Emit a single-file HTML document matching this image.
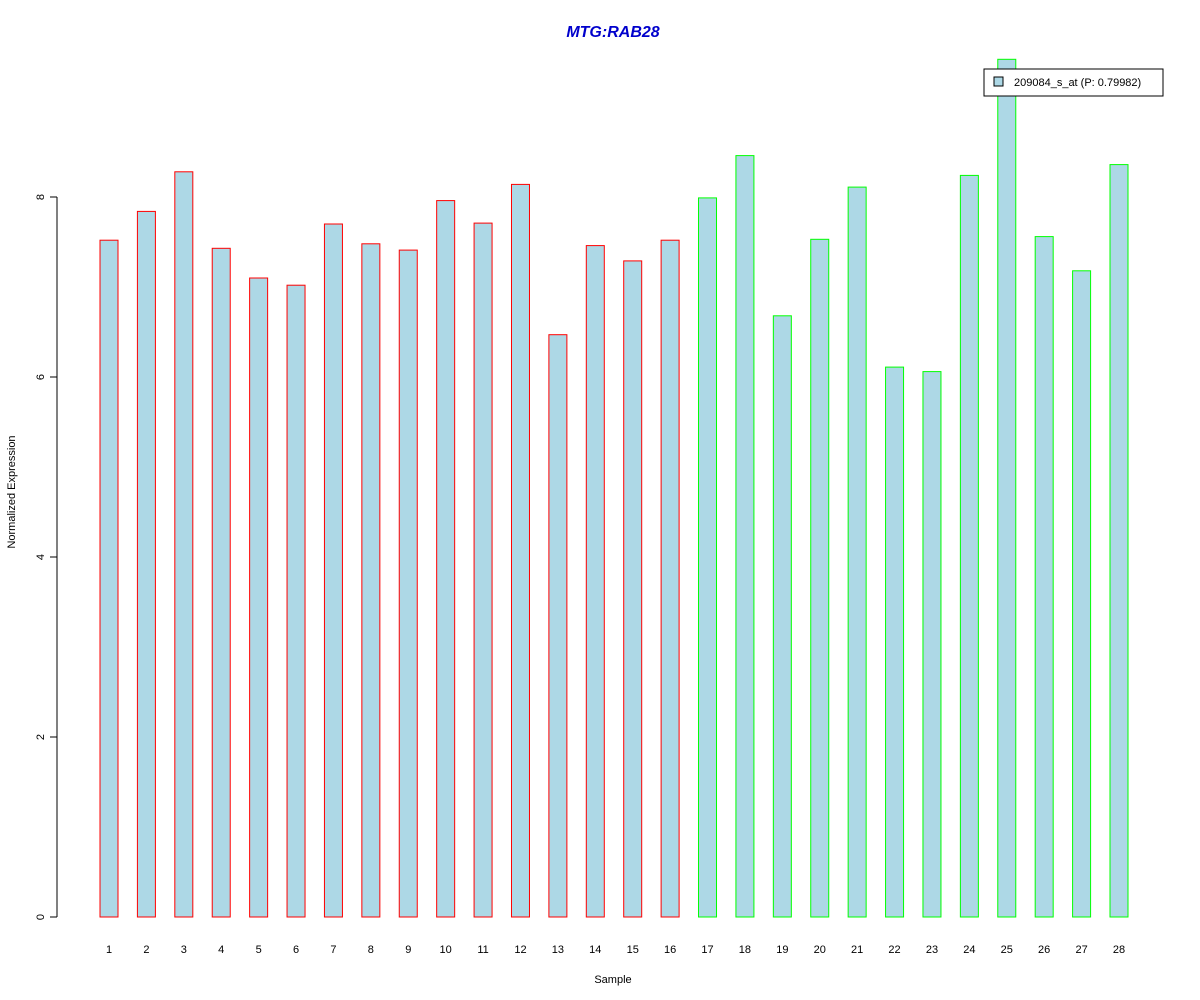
<!DOCTYPE html>
<html><head><meta charset="utf-8"><style>
body{margin:0;background:#fff}
svg{display:block;font-family:"Liberation Sans",Arial,sans-serif}
</style></head><body>
<svg id="chart" width="1200" height="1000" xmlns="http://www.w3.org/2000/svg">
<text x="613" y="37" text-anchor="middle" font-size="16" font-weight="bold" font-style="italic" fill="#0000cc">MTG:RAB28</text>
<text x="613" y="983" text-anchor="middle" font-size="11">Sample</text>
<text transform="translate(15,492) rotate(-90)" text-anchor="middle" font-size="11">Normalized Expression</text>
<g id="yaxis"></g>
<g id="bars"></g>
<g id="xlabels"></g>
<g>
<rect x="984" y="69" width="179" height="27" fill="#fff" stroke="#000"/>
<rect x="994" y="77" width="9" height="9" fill="#add8e6" stroke="#000"/>
<text x="1014" y="86" font-size="11">209084_s_at (P: 0.79982)</text>
</g>
</svg>
<script>
const categories=["1","2","3","4","5","6","7","8","9","10","11","12","13","14","15","16","17","18","19","20","21","22","23","24","25","26","27","28"];
const values=[7.52,7.84,8.28,7.43,7.10,7.02,7.70,7.48,7.41,7.96,7.71,8.14,6.47,7.46,7.29,7.52,7.99,8.46,6.68,7.53,8.11,6.11,6.06,8.24,9.53,7.56,7.18,8.36];
const groups=["a","a","a","a","a","a","a","a","a","a","a","a","a","a","a","a","b","b","b","b","b","b","b","b","b","b","b","b"];
const yTicks=[0,2,4,6,8];
const NS="http://www.w3.org/2000/svg";
const y=v=>917-v*90;
const x=i=>109+i*(1119-109)/(categories.length-1);
const ya=document.getElementById('yaxis');
let l=document.createElementNS(NS,'line');
l.setAttribute('x1',57);l.setAttribute('x2',57);l.setAttribute('y1',y(yTicks[0]));l.setAttribute('y2',y(yTicks[yTicks.length-1]));l.setAttribute('stroke','#000');


ya.appendChild(l);
yTicks.forEach(t=>{
 const tk=document.createElementNS(NS,'line');
 tk.setAttribute('x1',50);tk.setAttribute('x2',57);tk.setAttribute('y1',y(t));tk.setAttribute('y2',y(t));tk.setAttribute('stroke','#000');
 
 
 ya.appendChild(tk);
 const tx=document.createElementNS(NS,'text');
 tx.setAttribute('transform',`translate(44,${y(t)}) rotate(-90)`);tx.setAttribute('text-anchor','middle');tx.setAttribute('font-size','11');tx.textContent=t;
 
 
 ya.appendChild(tx);
});
const bg=document.getElementById('bars'),xl=document.getElementById('xlabels');
values.forEach((v,i)=>{
 const r=document.createElementNS(NS,'rect');
 r.setAttribute('x',x(i)-9);r.setAttribute('width',18);r.setAttribute('y',y(v));r.setAttribute('height',y(0)-y(v));
 r.setAttribute('fill','#add8e6');r.setAttribute('stroke',groups[i]==='a'?'#ff0000':'#00ff00');
 
 
 bg.appendChild(r);
 const t=document.createElementNS(NS,'text');
 t.setAttribute('x',x(i));t.setAttribute('y',953);t.setAttribute('text-anchor','middle');t.setAttribute('font-size','11');t.textContent=categories[i];
 
 
 xl.appendChild(t);
});
</script>
</body></html>
